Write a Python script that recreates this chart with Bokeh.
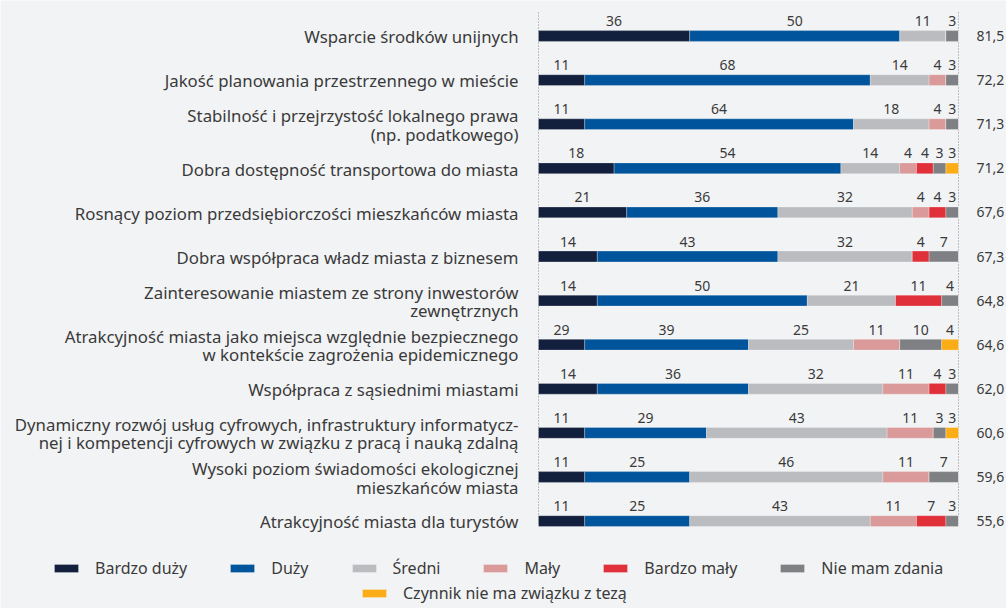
from bokeh.plotting import figure
from bokeh.models import Range1d, ColumnDataSource, Legend, LegendItem
from bokeh.core.properties import value
from bokeh.embed import file_html
from bokeh.resources import INLINE

categories = [
    "Wsparcie środków unijnych",
    "Jakość planowania przestrzennego w mieście",
    "Stabilność i przejrzystość lokalnego prawa\n(np. podatkowego)",
    "Dobra dostępność transportowa do miasta",
    "Rosnący poziom przedsiębiorczości mieszkańców miasta",
    "Dobra współpraca władz miasta z biznesem",
    "Zainteresowanie miastem ze strony inwestorów\nzewnętrznych",
    "Atrakcyjność miasta jako miejsca względnie bezpiecznego\nw kontekście zagrożenia epidemicznego",
    "Współpraca z sąsiednimi miastami",
    "Dynamiczny rozwój usług cyfrowych, infrastruktury informatycz-\nnej i kompetencji cyfrowych w związku z pracą i nauką zdalną",
    "Wysoki poziom świadomości ekologicznej\nmieszkańców miasta",
    "Atrakcyjność miasta dla turystów",
]
series_names = ["Bardzo duży", "Duży", "Średni", "Mały", "Bardzo mały", "Nie mam zdania",
                "Czynnik nie ma związku z tezą"]
bardzo_duzy = [36, 11, 11, 18, 21, 14, 14, 11, 14, 11, 11, 11]
duzy = [50, 68, 64, 54, 36, 43, 50, 39, 36, 29, 25, 25]
sredni = [11, 14, 18, 14, 32, 32, 21, 25, 32, 43, 46, 43]
maly = [0, 4, 4, 4, 4, 0, 0, 11, 11, 11, 11, 11]
bardzo_maly = [0, 0, 0, 4, 4, 4, 11, 0, 4, 0, 0, 7]
nie_mam = [3, 3, 3, 3, 3, 7, 4, 10, 3, 3, 7, 3]
nie_zwiazku = [0, 0, 0, 3, 0, 0, 0, 4, 0, 3, 0, 0]
# labels printed in the original (first series of row 8 reads "29")
bardzo_duzy_labels = ["36", "11", "11", "18", "21", "14", "14", "29", "14", "11", "11", "11"]
index_values = ["81,5", "72,2", "71,3", "71,2", "67,6", "67,3", "64,8", "64,6", "62,0", "60,6", "59,6", "55,6"]

colors = ["#13203d", "#00549b", "#bbbcbf", "#da9a9a", "#e0313b", "#7f8083", "#fbad18"]
all_series = [bardzo_duzy, duzy, sredni, maly, bardzo_maly, nie_mam, nie_zwiazku]

FONT = "Noto Sans"
TXT = "#3a3a3a"
BG = "#f2f3f5"

W, H = 1006, 608
n = len(categories)
rows = list(range(n))

p = figure(width=W, height=H, output_backend="svg", toolbar_location=None,
           x_range=Range1d(-538 / 4.2, (W - 538) / 4.2),
           y_range=Range1d((H - 35.5) / 44.1, -35.5 / 44.1),
           min_border=0, min_border_left=0, min_border_right=0,
           min_border_top=0, min_border_bottom=0)
p.axis.visible = False
p.grid.visible = False
p.outline_line_color = None
p.background_fill_color = BG
p.border_fill_color = BG

# dotted frame lines at 0 and 100
p.segment(x0=[0, 100], y0=[-0.533, -0.533], x1=[0, 100], y1=[11.1, 11.1],
          line_color="#8a8a8a", line_dash="1 2", line_width=1)

renderers = []
left = [0.0] * n
for name, vals, col in zip(series_names, all_series, colors):
    right = [l + v for l, v in zip(left, vals)]
    src = ColumnDataSource(dict(y=rows, left=left, right=right))
    r = p.hbar(y="y", left="left", right="right", height=0.245, source=src,
               fill_color=col, line_color="white", line_alpha=0.5, line_width=0.5)
    renderers.append(r)
    lab = bardzo_duzy_labels if name == "Bardzo duży" else [str(v) for v in vals]
    ls = ColumnDataSource(dict(x=[(l + r2) / 2 for l, r2, v in zip(left, right, vals) if v > 0],
                               y=[y for y, v in zip(rows, vals) if v > 0],
                               t=[t for t, v in zip(lab, vals) if v > 0]))
    p.text(x="x", y="y", text="t", source=ls, y_offset=-15, text_align="center",
           text_baseline="middle", text_font=value(FONT), text_font_size="14px",
           text_color=TXT)
    left = right

# category labels
p.text(x=[-4.76] * n, y=[r + 0.02 for r in rows], text=categories, text_align="right",
       text_baseline="middle", text_font=value(FONT), text_font_size="16.8px",
       text_color=TXT, text_line_height=0.8)

# index values on the right
p.text(x=[(976 - 538) / 4.2] * n, y=rows, text=index_values, text_align="left",
       text_baseline="middle", text_font=value(FONT), text_font_size="14px",
       text_color=TXT)

leg1 = Legend(items=[LegendItem(label=nm, renderers=[r]) for nm, r in zip(series_names[:6], renderers[:6])],
              orientation="horizontal", location=(51, H - 569 - 10), spacing=40, label_standoff=14,
              glyph_width=30, glyph_height=10, padding=0, margin=0,
              border_line_color=None, background_fill_alpha=0,
              label_text_font=FONT, label_text_font_size="16px", label_text_color=TXT)
leg2 = Legend(items=[LegendItem(label=series_names[6], renderers=[renderers[6]])],
              orientation="horizontal", location=(359, H - 594 - 10), label_standoff=14,
              glyph_width=30, glyph_height=10, padding=0, margin=0,
              border_line_color=None, background_fill_alpha=0,
              label_text_font=FONT, label_text_font_size="16px", label_text_color=TXT)
p.add_layout(leg1, "center")
p.add_layout(leg2, "center")

open("out.html", "w").write(file_html(p, INLINE))
